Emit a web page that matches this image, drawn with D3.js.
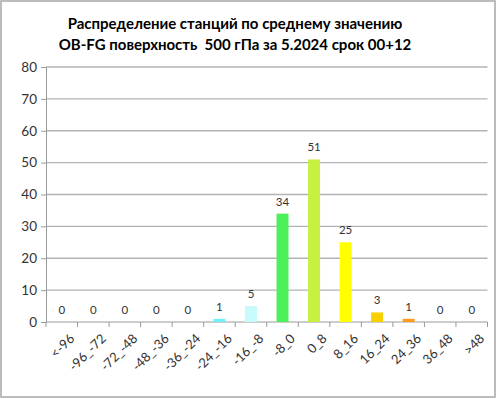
<!DOCTYPE html>
<html>
<head>
<meta charset="utf-8">
<script src="https://cdn.jsdelivr.net/npm/d3@7"></script>
<style>
  body { margin: 0; background: #fff; }
  svg text { font-family: Lato, "Open Sans", sans-serif; }
  .title { white-space: pre; }
</style>
</head>
<body>
<div id="chart"></div>
<script>
const categories = ['<-96', '-96_-72', '-72_-48', '-48_-36', '-36_-24', '-24_-16', '-16_-8',
  '-8_0', '0_8', '8_16', '16_24', '24_36', '36_48', '>48'];
const counts = [0, 0, 0, 0, 0, 1, 5, 34, 51, 25, 3, 1, 0, 0];
const barColors = ['#6ef0f8', '#6ef0f8', '#6ef0f8', '#6ef0f8', '#6ef0f8', '#6ef0f8', '#c8fafc',
  '#4cf05a', '#c8f040', '#ffff00', '#f8d000', '#ff9a20', '#ff9a20', '#ff9a20'];
const yTicks = [0, 10, 20, 30, 40, 50, 60, 70, 80];
const titleLines = ['Распределение станций по среднему значению',
  'OB-FG поверхность  500 гПа за 5.2024 срок 00+12'];

const width = 496, height = 399;
const margin = {top: 67, right: 8.5, bottom: 77, left: 46};
const innerW = width - margin.left - margin.right;
const innerH = height - margin.top - margin.bottom;

const svg = d3.select('#chart').append('svg')
  .attr('width', width)
  .attr('height', height);

// outer frame
svg.append('rect')
  .attr('x', 1).attr('y', 1)
  .attr('width', width - 2).attr('height', height - 3)
  .attr('fill', '#fff')
  .attr('stroke', '#a6a6a6')
  .attr('stroke-width', 1.5);

svg.selectAll('.title')
  .data(titleLines)
  .enter().append('text')
  .attr('class', 'title')
  .attr('x', 235)
  .attr('y', (d, i) => 29 + i * 21)
  .attr('text-anchor', 'middle')
  .attr('font-size', 15)
  .attr('font-weight', 'bold')
  .attr('fill', '#000')
  .text(d => d);

const g = svg.append('g')
  .attr('transform', 'translate(' + margin.left + ',' + margin.top + ')');

const x = d3.scaleBand().domain(categories).range([0, innerW]).paddingInner(0.62).paddingOuter(0.31);
const y = d3.scaleLinear().domain([0, 80]).range([innerH, 0]);

// gridlines
g.selectAll('.grid')
  .data(yTicks.filter(d => d > 0))
  .enter().append('line')
  .attr('class', 'grid')
  .attr('x1', 0).attr('x2', innerW)
  .attr('y1', d => y(d)).attr('y2', d => y(d))
  .attr('stroke', '#b3b3b3')
  .attr('stroke-width', 1.3);

// y axis
const yAxis = g.append('g')
  .call(d3.axisLeft(y).tickValues(yTicks).tickSize(5).tickPadding(4));
yAxis.select('.domain').attr('stroke', '#9a9a9a');
yAxis.selectAll('.tick line').attr('stroke', '#9a9a9a');
yAxis.selectAll('text').attr('font-size', 13.5).attr('fill', '#333');

// x axis: ticks on band boundaries
const xAxisG = g.append('g').attr('transform', 'translate(0,' + innerH + ')');
xAxisG.append('line')
  .attr('x1', 0).attr('x2', innerW)
  .attr('stroke', '#9a9a9a');
const step = x.step();
xAxisG.selectAll('.xtick')
  .data(d3.range(categories.length + 1))
  .enter().append('line')
  .attr('class', 'xtick')
  .attr('x1', i => i * step).attr('x2', i => i * step)
  .attr('y1', 0).attr('y2', 5)
  .attr('stroke', '#9a9a9a');
xAxisG.selectAll('.xlabel')
  .data(categories)
  .enter().append('text')
  .attr('class', 'xlabel')
  .attr('transform', d => 'translate(' + (x(d) + x.bandwidth() / 2 + 7) + ',11) rotate(-45)')
  .attr('text-anchor', 'end')
  .attr('dy', '0.7em')
  .attr('font-size', 13)
  .attr('fill', '#333')
  .text(d => d);

// bars
const data = categories.map((c, i) => ({cat: c, value: counts[i], color: barColors[i]}));
g.selectAll('.bar')
  .data(data)
  .enter().append('rect')
  .attr('class', 'bar')
  .attr('x', d => x(d.cat))
  .attr('width', x.bandwidth())
  .attr('y', d => y(d.value))
  .attr('height', d => innerH - y(d.value))
  .attr('fill', d => d.color);

g.selectAll('.val')
  .data(data)
  .enter().append('text')
  .attr('class', 'val')
  .attr('x', d => x(d.cat) + x.bandwidth() / 2)
  .attr('y', d => y(d.value) - 8)
  .attr('text-anchor', 'middle')
  .attr('font-size', 11.5)
  .attr('fill', '#333')
  .text(d => d.value);
</script>
</body>
</html>
